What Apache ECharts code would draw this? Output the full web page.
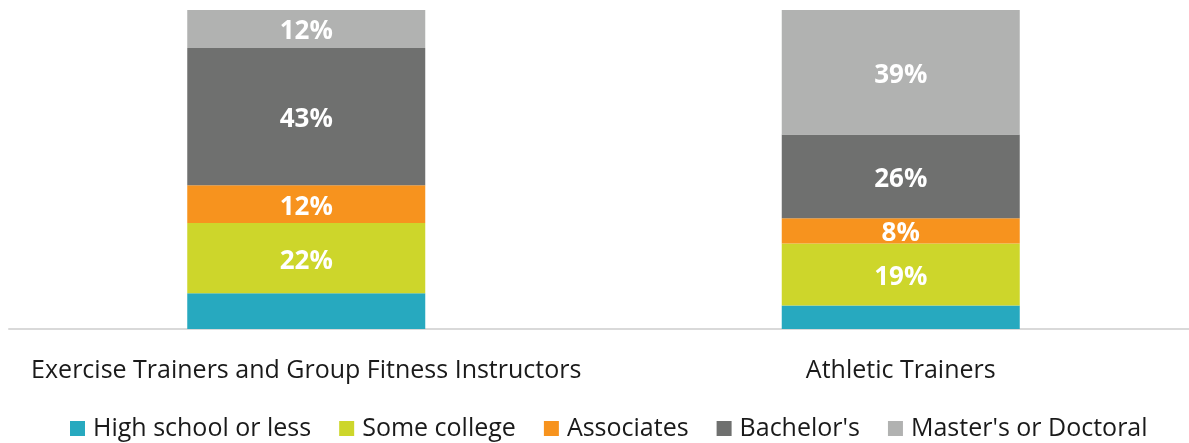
<!DOCTYPE html>
<html>
<head>
<meta charset="utf-8">
<script src="https://cdn.jsdelivr.net/npm/echarts@6/dist/echarts.min.js"></script>
<style>html,body{margin:0;padding:0;background:#fff}#c{width:1189px;height:443px}</style>
</head>
<body>
<div id="c"></div>
<script>
const categories = ['Exercise Trainers and Group Fitness Instructors', 'Athletic Trainers'];
const seriesNames = ['High school or less', 'Some college', 'Associates', "Bachelor's", "Master's or Doctoral"];
const highSchool = [11.2, 7.4];
const someCollege = [22.0, 19.4];
const associates = [11.9, 7.9];
const bachelors = [43.0, 26.3];
const masters = [11.9, 39.0];
const showLabel = [false, true, true, true, true];
const colors = ['#27A9BF', '#CDD62B', '#F7931E', '#6F706F', '#B1B2B1'];
const FONT = '"Open Sans", "Noto Sans", sans-serif';

const values = [highSchool, someCollege, associates, bachelors, masters];
const chart = echarts.init(document.getElementById('c'));
chart.setOption({
  animation: false,
  color: colors,
  textStyle: { fontFamily: FONT },
  grid: { left: 9, right: -9, top: 10, bottom: 114, containLabel: false, outerBoundsMode: 'none' },
  legend: {
    left: 65, top: 411,
    itemWidth: 15, itemHeight: 15, itemGap: 28,
    icon: 'rect',
    textStyle: { fontFamily: FONT, fontSize: 25, color: '#1a1a1a', padding: [0, 0, 0, 3] },
    data: seriesNames
  },
  xAxis: {
    type: 'category', data: categories,
    axisLine: { lineStyle: { color: '#D9D9D9', width: 2 } },
    axisTick: { show: false },
    axisLabel: { fontFamily: FONT, fontSize: 25, color: '#1a1a1a', margin: 29, interval: 0 }
  },
  yAxis: { type: 'value', min: 0, max: 100, show: false, splitLine: { show: false } },
  series: seriesNames.map((n, i) => ({
    name: n, type: 'bar', stack: 'total', barWidth: 238,
    data: values[i],
    label: {
      show: showLabel[i], position: 'inside', color: '#fff', offset: [0, 3],
      fontFamily: FONT, fontWeight: 'bold', fontSize: 26,
      formatter: p => Math.round(p.value) + '%'
    }
  }))
});
</script>
</body>
</html>
